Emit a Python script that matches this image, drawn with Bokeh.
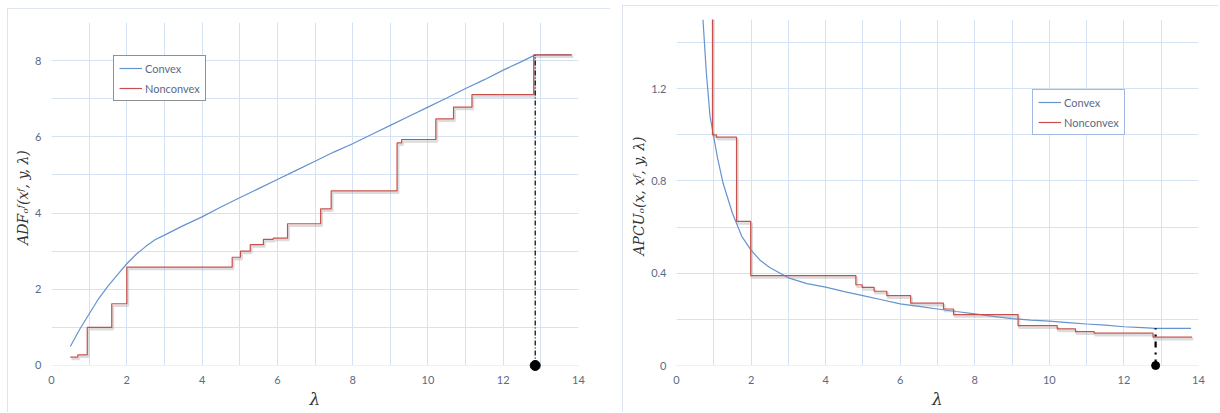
from bokeh.plotting import figure
from bokeh.layouts import row
from bokeh.models import FixedTicker, Legend, LegendItem, Range1d, BoxAnnotation, ColumnDataSource
from bokeh.transform import dodge
from bokeh.embed import file_html
from bokeh.resources import INLINE

# ---------------- data ----------------
# Left chart: ADF
adf_lambda = [0.5, 0.75, 1.0, 1.25, 1.5, 1.75, 2.0, 2.25, 2.5, 2.75, 3.0, 3.5, 4.0, 4.5,
              5.0, 5.5, 6.0, 6.5, 7.0, 7.5, 8.0, 8.5, 9.0, 9.5, 10.0, 10.5, 11.0, 11.5,
              12.0, 12.5, 12.85, 13.8]
adf_convex = [0.5, 0.95, 1.35, 1.75, 2.08, 2.38, 2.67, 2.92, 3.12, 3.3, 3.42, 3.67, 3.9, 4.16,
              4.4, 4.64, 4.88, 5.12, 5.36, 5.6, 5.82, 6.06, 6.3, 6.54, 6.78, 7.02, 7.27, 7.5,
              7.75, 7.98, 8.15, 8.15]
adf_nc_lambda = [0.5, 0.7, 0.95, 1.6, 2.0, 4.8, 5.02, 5.28, 5.63, 5.89, 6.27, 7.15, 7.43,
                 9.18, 9.3, 10.21, 10.68, 11.17, 12.81, 13.83]
adf_nonconvex = [0.22, 0.28, 1.0, 1.62, 2.58, 2.84, 3.0, 3.17, 3.31, 3.34, 3.72, 4.11, 4.58,
                 5.84, 5.93, 6.47, 6.78, 7.11, 8.15, 8.15]

# Right chart: APCU
apcu_lambda = [0.71, 0.8, 0.9, 1.0, 1.1, 1.25, 1.5, 1.75, 2.0, 2.25, 2.5, 3.0, 3.5, 4.0, 4.5,
               5.0, 5.5, 6.0, 6.5, 7.0, 7.5, 8.0, 8.5, 9.0, 9.5, 10.0, 10.5, 11.0, 11.5,
               12.0, 12.5, 12.85, 13.8]
apcu_convex = [1.5, 1.27, 1.08, 0.99, 0.9, 0.79, 0.66, 0.56, 0.5, 0.455, 0.425, 0.38, 0.355,
               0.34, 0.32, 0.303, 0.285, 0.267, 0.256, 0.245, 0.234, 0.224, 0.213, 0.203,
               0.197, 0.192, 0.186, 0.18, 0.175, 0.168, 0.164, 0.161, 0.161]
apcu_nc_lambda = [0.965, 0.965, 1.07, 1.61, 1.99, 4.81, 4.98, 5.3, 5.64, 6.28, 7.16, 7.43,
                  9.16, 10.21, 10.7, 11.2, 12.78, 13.83]
apcu_nonconvex = [2.0, 1.0, 0.99, 0.625, 0.39, 0.35, 0.339, 0.322, 0.303, 0.27, 0.245, 0.221,
                  0.173, 0.159, 0.147, 0.14, 0.123, 0.123]

lambda_star = 12.85
adf_star = 8.15
apcu_star = 0.161

x_ticks = [0, 2, 4, 6, 8, 10, 12, 14]
x_minor = list(range(0, 15))
adf_ticks = [0, 2, 4, 6, 8]
adf_minor = list(range(0, 10))
apcu_ticks = [0, 0.4, 0.8, 1.2]
apcu_minor = [0, 0.2, 0.4, 0.6, 0.8, 1.0, 1.2, 1.4]

# ---------------- style ----------------
BLUE = "#6593cf"
RED = "#c8504c"
SHADOW = "#9a9a9a"
GRID = "#d5e2f3"
TICK = "#5a6b85"
TICKFONT = "Lato"
PAD_PX = 7  # extra room below the zero line so the marker dot is not cut


def make_fig(frame_w, frame_h, y_end, y_pad, yticks, yminor, ylabel, borders, margin):
    p = figure(frame_width=frame_w, frame_height=frame_h + PAD_PX, output_backend="svg",
               toolbar_location=None,
               x_range=Range1d(0, 14), y_range=Range1d(-y_pad, y_end),
               min_border_left=borders[0], min_border_right=borders[1],
               min_border_top=borders[2], min_border_bottom=borders[3])
    p.margin = margin
    p.styles = {"outline": "1px solid #d3dce8", "outline-offset": "-1px"}
    p.background_fill_color = "white"
    p.border_fill_color = "white"
    p.outline_line_color = None
    p.xaxis.ticker = FixedTicker(ticks=x_ticks, minor_ticks=x_minor)
    p.yaxis.ticker = FixedTicker(ticks=yticks, minor_ticks=yminor)
    for ax in (p.xaxis, p.yaxis):
        ax.axis_line_color = None
        ax.major_tick_line_color = None
        ax.minor_tick_line_color = None
        ax.major_tick_out = 0
        ax.minor_tick_out = 0
        ax.major_label_text_font = TICKFONT
        ax.major_label_text_font_size = "11px"
        ax.major_label_text_color = TICK
        ax.axis_label_text_font = "DejaVu Serif"
        ax.axis_label_text_font_style = "italic"
        ax.axis_label_text_color = "#333333"
    p.xaxis.major_label_standoff = 9 - PAD_PX + 1
    p.yaxis.major_label_standoff = 10
    p.xaxis.axis_label = "λ"
    p.xaxis.axis_label_text_font_size = "17px"
    p.xaxis.axis_label_standoff = 2
    p.yaxis.axis_label = ylabel
    p.yaxis.axis_label_text_font_size = "14px"
    p.yaxis.axis_label_standoff = 1
    for g in (p.xgrid, p.ygrid):
        g.grid_line_color = GRID
        g.minor_grid_line_color = GRID
    # white band below zero hides grid stubs
    p.add_layout(BoxAnnotation(top=0, fill_color="white", fill_alpha=1, line_color=None,
                               level="annotation"))
    return p


def add_series(p, cx, cy, nx, ny, shadow_dx, shadow_dy):
    src = ColumnDataSource(dict(x=nx, y=ny))
    r_c = p.line(cx, cy, line_color=BLUE, line_width=1.2)
    p.step(x=dodge("x", shadow_dx, range=p.x_range), y=dodge("y", shadow_dy, range=p.y_range),
           source=src, mode="after", line_color=SHADOW, line_alpha=0.35, line_width=2.5)
    r_n = p.step(x="x", y="y", source=src, mode="after", line_color=RED, line_width=1.2)
    return r_c, r_n


def add_legend(p, r_c, r_n, location, border_color):
    leg = Legend(items=[LegendItem(label="Convex", renderers=[r_c]),
                        LegendItem(label="Nonconvex", renderers=[r_n])],
                 location=location, border_line_color=border_color, border_line_width=1,
                 background_fill_alpha=1, padding=5, spacing=6, label_height=14,
                 glyph_height=14, glyph_width=23, label_standoff=3, margin=0,
                 label_text_font=TICKFONT, label_text_font_size="11px",
                 label_text_color=TICK)
    p.add_layout(leg)


# ---------------- left chart ----------------
p1 = make_fig(527, 343, 9, PAD_PX / 38.1, adf_ticks, adf_minor, "ADFₒᶠ(xᶠ, y, λ)",
              (44, 32, 14, 40), (8, 0, 0, 7))
r1, r2 = add_series(p1, adf_lambda, adf_convex, adf_nc_lambda, adf_nonconvex, 0.03, -0.05)
p1.segment(x0=[lambda_star], y0=[0], x1=[lambda_star], y1=[adf_star], line_color="black",
           line_width=1.2, line_dash="5 2 1 2", level="overlay")
p1.scatter([lambda_star], [0], size=10, color="black", level="overlay")
add_legend(p1, r1, r2, (62, 264 + PAD_PX), "#222222")

# ---------------- right chart ----------------
p2 = make_fig(522, 346, 1.5, PAD_PX / 230.8, apcu_ticks, apcu_minor, "APCUₒ(x, xᶠ, y, λ)",
              (54, 20, 14, 40), (5, 0, 0, 0))
r3, r4 = add_series(p2, apcu_lambda, apcu_convex, apcu_nc_lambda, apcu_nonconvex, 0.03, -0.009)
p2.segment(x0=[lambda_star], y0=[0], x1=[lambda_star], y1=[apcu_star], line_color="black",
           line_width=2.2, line_dash="6 5 2 5", level="overlay")
p2.scatter([lambda_star], [0], size=8, color="black", level="overlay")
add_legend(p2, r3, r4, (356, 230 + PAD_PX), "#4472c4")

layout = row(p1, p2, spacing=12)
open("out.html", "w").write(file_html(layout, INLINE))
